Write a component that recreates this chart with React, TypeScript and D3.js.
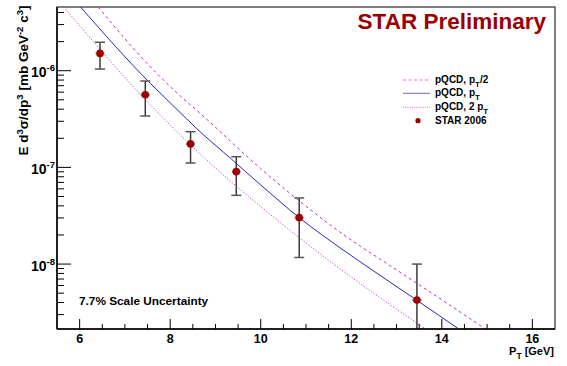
import * as d3 from "d3";

const W = 567;
const H = 366;
const LEFT = 57;
const RIGHT = 555;
const TOP = 7;
const BOTTOM = 329;
const FONT = "'Liberation Sans', Arial, Helvetica, sans-serif";

// pQCD curves
const PT_HALF = [6.41, 7.56, 8.16, 8.66, 9.99, 12.19, 12.63, 13.44, 14.94];
const XS_HALF = [4.56e-6, 1.1e-6, 5.83e-7, 3.63e-7, 9.79e-8, 1.54e-8, 1.13e-8, 6.37e-9, 2.17e-9];
const PT_ONE = [6.02, 7.56, 8.05, 8.66, 9.36, 10.0, 10.85, 11.82, 12.19, 13.44, 14.35];
const XS_ONE = [4.56e-6, 7.41e-7, 4.42e-7, 2.34e-7, 1.21e-7, 6.58e-8, 3.02e-8, 1.4e-8, 1.06e-8, 4.25e-9, 2.17e-9];
const PT_TWO = [5.65, 7.46, 8.81, 10.0, 11.2, 12.19, 13.62];
const XS_TWO = [4.56e-6, 4.98e-7, 1.19e-7, 3.93e-8, 1.4e-8, 6.32e-9, 2.17e-9];

// STAR 2006 points
const STAR_PT = [6.45, 7.45, 8.45, 9.46, 10.85, 13.45];
const STAR_XS = [1.51e-6, 5.65e-7, 1.75e-7, 9.03e-8, 3.02e-8, 4.25e-9];
const STAR_LO = [1.04e-6, 3.4e-7, 1.11e-7, 5.14e-8, 1.17e-8, 1e-9];
const STAR_HI = [1.97e-6, 7.82e-7, 2.34e-7, 1.29e-7, 4.83e-8, 1.0e-8];
const STAR_DX = 0.1;

const X_MAJOR = [6, 8, 10, 12, 14, 16];
const Y_DECADES = [-6, -7, -8];

const x = d3.scaleLinear().domain([5.5, 16.5]).range([LEFT, RIGHT]);
const y = d3.scaleLog().domain([2.13e-9, 4.56e-6]).range([BOTTOM, TOP]);

const line = d3
  .line<[number, number]>()
  .x((d) => x(d[0]))
  .y((d) => y(d[1]))
  .curve(d3.curveMonotoneX);

const zip = (a: number[], b: number[]) => a.map((v, i) => [v, b[i]] as [number, number]);

const CURVES = [
  { label: "pQCD, p", sub: "T", tail: "/2", pts: zip(PT_HALF, XS_HALF), color: "#c030c0", dash: "3,3", legColor: "#dd70dd", legDash: "3,2.5" },
  { label: "pQCD, p", sub: "T", tail: "", pts: zip(PT_ONE, XS_ONE), color: "#2828b8", dash: null, legColor: "#6a6ac8", legDash: null },
  { label: "pQCD, 2 p", sub: "T", tail: "", pts: zip(PT_TWO, XS_TWO), color: "#cc40cc", dash: "1.2,1.8", legColor: "#d070d0", legDash: "1,1.2" },
];

export default function App() {
  const minorX = d3.range(5.5, 16.51, 0.5).filter((v) => !X_MAJOR.includes(v) && v > 5.5 && v < 16.5);
  const minorY: number[] = [];
  for (let e = -9; e <= -6; e++) {
    for (let m = 2; m <= 9; m++) {
      const v = m * Math.pow(10, e);
      if (v > y.domain()[0] && v < y.domain()[1]) minorY.push(v);
    }
  }

  return (
    <svg
      width={W}
      height={H}
      style={{ position: "absolute", left: 0, top: 0, background: "#fff" }}
      fontFamily={FONT}
      fontWeight="bold"
    >
      <rect width={W} height={H} fill="#fff" />
      <defs>
        <clipPath id="plot">
          <rect x={LEFT} y={TOP} width={RIGHT - LEFT} height={BOTTOM - TOP} />
        </clipPath>
      </defs>

      {/* frame */}
      <rect x={LEFT} y={TOP} width={RIGHT - LEFT} height={BOTTOM - TOP} fill="none" stroke="#000" strokeWidth={1} />

      <g clipPath="url(#plot)">
        {CURVES.map((c, i) => (
          <path
            key={i}
            d={line(c.pts) ?? ""}
            fill="none"
            stroke={c.color}
            strokeWidth={1}
            strokeDasharray={c.dash ?? undefined}
          />
        ))}

        {STAR_PT.map((pt, i) => {
          const cx = x(pt);
          return (
            <g key={i}>
              <line x1={cx} x2={cx} y1={y(STAR_LO[i])} y2={y(STAR_HI[i])} stroke="#3a3a3a" strokeWidth={1.5} />
              <line x1={cx - 5} x2={cx + 5} y1={y(STAR_HI[i])} y2={y(STAR_HI[i])} stroke="#555" strokeWidth={1.5} />
              <line x1={cx - 5} x2={cx + 5} y1={y(STAR_LO[i])} y2={y(STAR_LO[i])} stroke="#555" strokeWidth={1.5} />
              <line x1={x(pt - STAR_DX)} x2={x(pt + STAR_DX)} y1={y(STAR_XS[i])} y2={y(STAR_XS[i])} stroke="#888" strokeWidth={2} />
              <circle cx={cx} cy={y(STAR_XS[i])} r={3.8} fill="#a00000" />
            </g>
          );
        })}
      </g>

      {/* axes */}
      <line x1={LEFT} x2={LEFT} y1={TOP} y2={BOTTOM} stroke="#000" strokeWidth={1.5} />
      <line x1={LEFT} x2={RIGHT} y1={BOTTOM} y2={BOTTOM} stroke="#000" strokeWidth={1.5} />

      {X_MAJOR.map((v) => (
        <g key={v}>
          <line x1={x(v)} x2={x(v)} y1={BOTTOM} y2={BOTTOM - 10} stroke="#000" />
          <text x={x(v)} y={343} textAnchor="middle" fontSize={12.5}>
            {v}
          </text>
        </g>
      ))}
      {minorX.map((v) => (
        <line key={v} x1={x(v)} x2={x(v)} y1={BOTTOM} y2={BOTTOM - 5} stroke="#000" />
      ))}

      {Y_DECADES.map((e) => {
        const yy = y(Math.pow(10, e));
        return (
          <g key={e}>
            <line x1={LEFT} x2={LEFT + 14} y1={yy} y2={yy} stroke="#000" />
            <text x={55} y={yy + 6.6} textAnchor="end" fontSize={14}>
              10
              <tspan dy={-6} fontSize={9.5}>
                {e}
              </tspan>
            </text>
          </g>
        );
      })}
      {minorY.map((v) => (
        <line key={v} x1={LEFT} x2={LEFT + 7} y1={y(v)} y2={y(v)} stroke="#000" />
      ))}

      {/* axis titles */}
      <text transform="translate(28,80.5) rotate(-90)" textAnchor="middle" fontSize={13.5}>
        E d<tspan dy={-5} fontSize={9.5}>3</tspan>
        <tspan dy={5}>σ/dp</tspan>
        <tspan dy={-5} fontSize={9.5}>3</tspan>
        <tspan dy={5}> [mb GeV</tspan>
        <tspan dy={-5} fontSize={9.5}>-2</tspan>
        <tspan dy={5}> c</tspan>
        <tspan dy={-5} fontSize={9.5}>3</tspan>
        <tspan dy={5}>]</tspan>
      </text>
      <text x={554} y={355} textAnchor="end" fontSize={11}>
        P<tspan dy={4} fontSize={8.5}>T</tspan>
        <tspan dy={-4}> [GeV]</tspan>
      </text>

      {/* title */}
      <text x={546} y={28.5} textAnchor="end" fontSize={22.5} fill="#990000">
        STAR Preliminary
      </text>

      <text x={79} y={305} fontSize={11.8}>
        7.7% Scale Uncertainty
      </text>

      {/* legend */}
      {CURVES.map((c, i) => {
        const ly = [80, 93.3, 107.3][i];
        return (
          <g key={i}>
            <line x1={403} x2={430} y1={ly} y2={ly} stroke={c.legColor} strokeWidth={1} strokeDasharray={c.legDash ?? undefined} />
            <text x={435} y={ly + 3} fontSize={10}>
              {c.label}
              <tspan dy={3.5} fontSize={8}>{c.sub}</tspan>
              <tspan dy={-3.5}>{c.tail}</tspan>
            </text>
          </g>
        );
      })}
      <circle cx={418} cy={120.7} r={2.6} fill="#a00000" />
      <text x={435} y={124} fontSize={10}>
        STAR 2006
      </text>
    </svg>
  );
}
